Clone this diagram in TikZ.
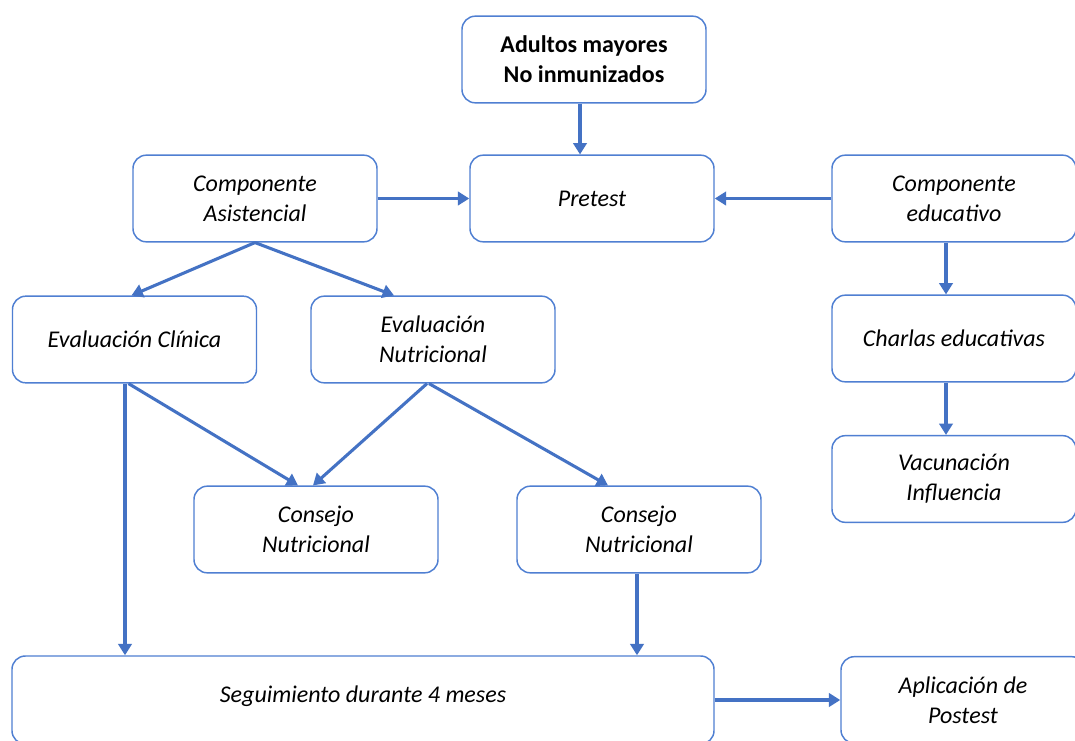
\documentclass[tikz,border=0pt]{standalone}
\usepackage{fontspec}
\setmainfont{Carlito}
\usetikzlibrary{arrows.meta,calc}
\definecolor{bord}{HTML}{4F7FD2}
\definecolor{arr}{HTML}{4472C4}
\tikzset{
  txt/.style={font=\fontsize{18}{22.5}\selectfont\itshape, align=center},
  box/.style={draw=bord, line width=1.1pt, rounded corners=10pt, fill=white,
    minimum width=183pt, minimum height=65pt, inner sep=2pt, txt},
  conn/.style={draw=arr, line width=2.3pt, -{Triangle[width=10pt,length=8.5pt]}},
}
\begin{document}
\begin{tikzpicture}[x=0.75pt,y=-0.75pt]
\useasboundingbox (0,0) rectangle (1075,740);
\clip (0,0) rectangle (1075,740);
\fill[white] (0,0) rectangle (1075,740);
\node[box, font=\fontsize{18}{22.5}\selectfont\bfseries] (top) at (584,59.5) {Adultos mayores\\No inmunizados};
\node[box] (asis) at (255,198.5) {Componente\\Asistencial};
\node[box] (pre) at (592,198.5) {Pretest};
\node[box] (edu) at (954,198.5) {Componente\\educativo};
\node[box] (evc) at (134.5,339.5) {Evaluación Clínica};
\node[box] (evn) at (433,339.5) {Evaluación\\Nutricional};
\node[box] (cha) at (954,338.5) {Charlas educativas};
\node[box] (vac) at (954,479) {Vacunación\\Influencia};
\node[box] (cn1) at (316,529.5) {Consejo\\Nutricional};
\node[box] (cn2) at (639,529.5) {Consejo\\Nutricional};
\node[box, minimum width=526.5pt, minimum height=66pt] (seg) at (363,700) {};
\node[txt] (segt) at (363,696) {Seguimiento durante 4 meses};
\node[box] (apl) at (963,700) {Aplicación de\\Postest};

\draw[conn] (top.south -| 580,0) -- (pre.north -| 580,0);
\draw[conn] (asis.east) -- (pre.west);
\draw[conn] (edu.west) -- (pre.east);
\draw[conn] (asis.south) -- ($(evc.north)+(-3,0)$);
\draw[conn] (asis.south) -- ($(evn.north)+(-39,0)$);
\draw[conn] (edu.south -| 946,0) -- (cha.north -| 946,0);
\draw[conn] (cha.south -| 946,0) -- (vac.north -| 946,0);
\draw[conn] (evc.south -| 125,0) -- (seg.north -| 125,0);
\draw[conn] ($(evc.south)+(-6,0)$) -- ($(cn1.north)+(-18,0)$);
\draw[conn] ($(evn.south)+(-6,0)$) -- ($(cn1.north)+(-3,0)$);
\draw[conn] ($(evn.south)+(-4,0)$) -- ($(cn2.north)+(-31,0)$);
\draw[conn] (cn2.south -| 637,0) -- (seg.north -| 637,0);
\draw[conn] (seg.east) -- (apl.west);
\end{tikzpicture}
\end{document}
